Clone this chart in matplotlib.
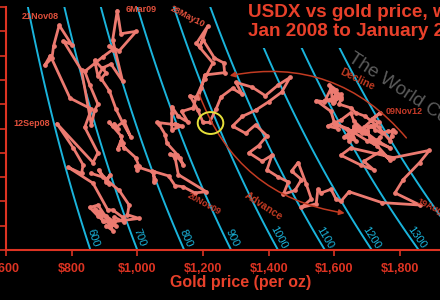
import numpy as np
import matplotlib
matplotlib.use("Agg")
import matplotlib.pyplot as plt
from matplotlib.patches import Ellipse, FancyArrowPatch

plt.rcParams['font.family'] = ['Liberation Sans', 'DejaVu Sans']

# weekly gold price ($/oz) and USDX
gold_2008 = [860, 895, 882, 915, 905, 918, 905, 945, 975, 970, 1005, 920, 935, 905, 925, 915,
             880, 855, 880, 897, 925, 885, 895, 870, 905, 930, 930, 960, 955, 925, 910, 865,
             790, 830, 835, 805, 755, 865, 880, 840, 860, 795, 735, 718, 740, 745, 762, 800,
             775, 830, 860, 870]
usdx_2008 = [76.3, 76.0, 76.6, 75.4, 75.6, 76.2, 75.8, 74.9, 73.7, 72.9, 72.6, 72.3, 72.0, 72.0,
             71.6, 72.3, 73.7, 73.5, 72.8, 72.4, 72.1, 73.1, 72.4, 73.4, 72.8, 72.3, 72.7, 72.3,
             72.7, 73.3, 73.3, 75.5, 76.8, 76.3, 77.0, 78.4, 80.4, 77.2, 78.0, 80.1, 81.6, 82.5,
             86.0, 85.2, 85.8, 86.8, 88.5, 86.9, 87.2, 84.8, 80.3, 81.5]

gold_2009 = [880, 855, 840, 895, 925, 915, 945, 997, 950, 939, 925, 955, 920, 895, 880, 870,
             905, 890, 915, 935, 955, 980, 960, 935, 930, 940, 925, 915, 950, 955, 960, 950,
             940, 950, 995, 1005, 1000, 995, 1005, 1050, 1050, 1055, 1045, 1095, 1115, 1140,
             1175, 1210, 1125, 1115, 1100]
usdx_2009 = [82.0, 83.6, 84.7, 85.9, 86.5, 86.8, 86.4, 88.0, 87.8, 89.7, 87.3, 83.9, 85.3, 85.0,
             84.3, 85.6, 84.6, 84.1, 83.1, 81.6, 80.5, 79.3, 80.6, 80.1, 80.4, 80.0, 80.2, 80.5,
             79.4, 78.8, 78.4, 79.0, 78.3, 78.7, 77.6, 76.9, 76.6, 76.9, 76.8, 76.4, 75.6, 75.8,
             76.5, 76.1, 75.3, 75.2, 74.7, 74.8, 76.2, 77.6, 77.9]

gold_2010 = [1120, 1140, 1130, 1090, 1085, 1065, 1060, 1120, 1115, 1135, 1105, 1105, 1105, 1125,
             1155, 1135, 1170, 1180, 1205, 1230, 1180, 1214, 1190, 1200, 1235, 1263, 1266, 1205,
             1195, 1185, 1160, 1185, 1200, 1220, 1240, 1255, 1290, 1320, 1300, 1350, 1390, 1430,
             1465, 1440, 1400, 1360, 1320, 1290, 1330, 1360, 1395, 1370, 1340]
usdx_2010 = [77.8, 77.0, 77.6, 78.8, 79.5, 80.4, 80.5, 80.3, 80.4, 80.2, 79.9, 81.3, 81.8, 81.0,
             80.5, 81.4, 81.7, 82.6, 84.1, 85.4, 87.0, 88.4, 86.7, 87.3, 85.8, 85.4, 84.6, 84.4,
             83.3, 82.5, 82.7, 81.5, 80.5, 80.5, 81.6, 82.6, 83.3, 82.8, 83.8, 83.4, 82.7, 83.6,
             84.2, 83.0, 82.2, 81.5, 81.0, 80.2, 79.6, 80.3, 79.4, 78.6, 78.0]

gold_2011 = [1380, 1410, 1395, 1430, 1460, 1445, 1480, 1500, 1470, 1490, 1515, 1530, 1500, 1545,
             1550, 1560, 1590, 1605, 1620, 1645, 1745, 1861, 1785, 1810, 1860, 1890, 1780, 1650,
             1620, 1680, 1720, 1690, 1740, 1770, 1730, 1700, 1640, 1600, 1610, 1580]
usdx_2011 = [77.3, 77.8, 76.6, 76.0, 75.6, 74.6, 74.9, 75.8, 76.5, 77.2, 75.4, 74.2, 73.5, 73.8,
             75.0, 74.7, 75.0, 74.2, 74.0, 74.8, 73.9, 73.7, 74.7, 75.8, 77.2, 78.2, 77.6, 78.4,
             77.8, 77.0, 76.6, 77.3, 78.1, 77.4, 78.6, 79.0, 80.0, 80.4, 80.0, 80.2]

gold_2012 = [1620, 1650, 1660, 1700, 1735, 1740, 1720, 1730, 1770, 1710, 1700, 1660, 1655, 1665,
             1630, 1660, 1650, 1645, 1645, 1600, 1590, 1545, 1570, 1590, 1595, 1620, 1570, 1600,
             1605, 1585, 1595, 1620, 1600, 1620, 1615, 1650, 1665, 1695, 1735, 1770, 1775, 1778,
             1785, 1765, 1745, 1725, 1715, 1690, 1740, 1715, 1735, 1720, 1710, 1700, 1695, 1660]
usdx_2012 = [80.7, 81.3, 80.6, 79.6, 78.9, 79.3, 78.8, 79.0, 78.4, 79.1, 79.8, 80.2, 79.6, 79.0,
             79.3, 79.9, 79.2, 79.0, 79.8, 80.5, 81.4, 82.3, 82.2, 83.3, 82.1, 82.6, 82.3, 82.2,
             83.2, 83.6, 83.1, 82.8, 82.6, 82.4, 82.0, 81.7, 81.3, 81.0, 80.1, 79.0, 79.4, 79.9,
             79.7, 79.8, 79.6, 79.9, 80.2, 80.1, 81.3, 80.8, 80.5, 80.2, 80.2, 79.8, 79.6, 79.9]

gold_2013 = [1660, 1665, 1685, 1665]
usdx_2013 = [79.7, 80.3, 79.6, 79.9]

gold = gold_2008 + gold_2009 + gold_2010 + gold_2011 + gold_2012 + gold_2013
usdx = usdx_2008 + usdx_2009 + usdx_2010 + usdx_2011 + usdx_2012 + usdx_2013

# gold priced in "USDX units" (gold * USDX / 100)
iso_levels = [600, 700, 800, 900, 1000, 1100, 1200, 1300, 1400]
iso_labeled = [600, 700, 800, 900, 1000, 1100, 1200, 1300]

xticks = [600, 800, 1000, 1200, 1400, 1600, 1800]
xticklabels = ['$600', '$800', '$1,000', '$1,200', '$1,400', '$1,600', '$1,800']
yticks = list(range(70, 91, 2))

# date annotations: text, gold, usdx, rotation, colour
date_labels = [("21Nov08", 704, 89.2, 0, '#e0503c'),
               ("6Mar09", 965, 89.8, 0, '#e0503c'),
               ("28May10", 1154, 89.2, -27, '#e0503c'),
               ("12Sep08", 679, 80.45, 0, '#e0503c'),
               ("20Nov09", 1203, 73.8, -29, '#c63a28'),
               ("09Nov12", 1812, 81.4, 0, '#c63a28'),
               ("19Aug11", 1905, 73.4, -25, '#c63a28')]

red = '#dd3322'
cyan = '#1ab4dc'
pink = '#ec7a70'
dark = '#c23b22'

fig = plt.figure(figsize=(4.4, 3.0), dpi=100, facecolor='black')
ax = fig.add_axes([6/440, 50/300, 434/440, 243/300], facecolor='black')
ax.set_xlim(600, 1922)
ax.set_ylim(70, 90)

for s in ['top', 'right']:
    ax.spines[s].set_visible(False)
for s in ['left', 'bottom']:
    ax.spines[s].set_color(red)
    ax.spines[s].set_linewidth(1.5)

ax.set_xticks(xticks)
ax.set_xticklabels(xticklabels)
ax.set_yticks(yticks)
ax.tick_params(axis='x', colors=red, length=4, width=1.2, labelsize=9, pad=5)
ax.tick_params(axis='y', colors=red, length=4, width=1.2, labelleft=False)
for lab in ax.get_xticklabels():
    lab.set_fontweight('bold')

# iso lines
G, U = np.meshgrid(np.linspace(550, 2100, 300), np.linspace(68, 92, 120))
ax.contour(G, U, G * U / 100.0, levels=iso_levels, colors=cyan, linewidths=1.4, zorder=1)

for v in iso_labeled:
    p1 = ax.transData.transform((v * 100 / 70.0, 70.0))
    p2 = ax.transData.transform((v * 100 / 72.0, 72.0))
    ang = np.degrees(np.arctan2(p1[1] - p2[1], p1[0] - p2[0]))
    ax.annotate(str(v), (v * 100 / 71.0, 71.0), xytext=(5, 0), textcoords='offset points',
                rotation=ang, rotation_mode='anchor', ha='center', va='center',
                color=cyan, fontsize=8)

# watermark
ax.text(1639, 85.6, "The World Complex", rotation=-33, rotation_mode='anchor',
        color='#5c5c5c', fontsize=13.5, ha='left', va='baseline', zorder=1)

# the trace
ax.plot(gold, usdx, color=pink, lw=2.0, marker='o', ms=2.4, zorder=3)

# yellow circle
ax.add_patch(Ellipse((1223, 80.45), 78, 1.8, fill=False, edgecolor='#e6e03a', lw=1.4, zorder=5))

# arrows
adv = FancyArrowPatch((1186, 83.0), (1640, 73.0), connectionstyle="arc3,rad=0.3",
                      arrowstyle='-|>', mutation_scale=8, color=dark, lw=1.1, zorder=4)
ax.add_patch(adv)
dec = FancyArrowPatch((1825, 79.05), (1273, 84.3), connectionstyle="arc3,rad=0.3",
                      arrowstyle='-|>', mutation_scale=8, color=dark, lw=1.1, zorder=4)
ax.add_patch(dec)
ax.text(1385, 73.6, "Advance", rotation=-33, color=dark, fontsize=7.5, fontweight='bold',
        ha='center', va='center', zorder=6)
ax.text(1669, 84.0, "Decline", rotation=-26, color=dark, fontsize=7.5, fontweight='bold',
        ha='center', va='center', zorder=6)

for txt, gx, uy, rot, col in date_labels:
    ha = 'left' if txt == "6Mar09" else 'center'
    ax.text(gx, uy, txt, rotation=rot, color=col, fontsize=6.5, fontweight='bold',
            ha=ha, va='center', zorder=6)

fig.text(248/440, 1 - 4/300, "USDX vs gold price, weekly\nJan 2008 to January 2013",
         color='#e8402a', fontsize=13.6, fontweight='bold', ha='left', va='top',
         linespacing=1.12, bbox=dict(facecolor='black', edgecolor='none', pad=6))

fig.text(241/440, 1 - 283/300, "Gold price (per oz)", color='#e8402a', fontsize=11.5,
         fontweight='bold', ha='center', va='center')

fig.savefig('out.png', dpi=100, facecolor='black')
